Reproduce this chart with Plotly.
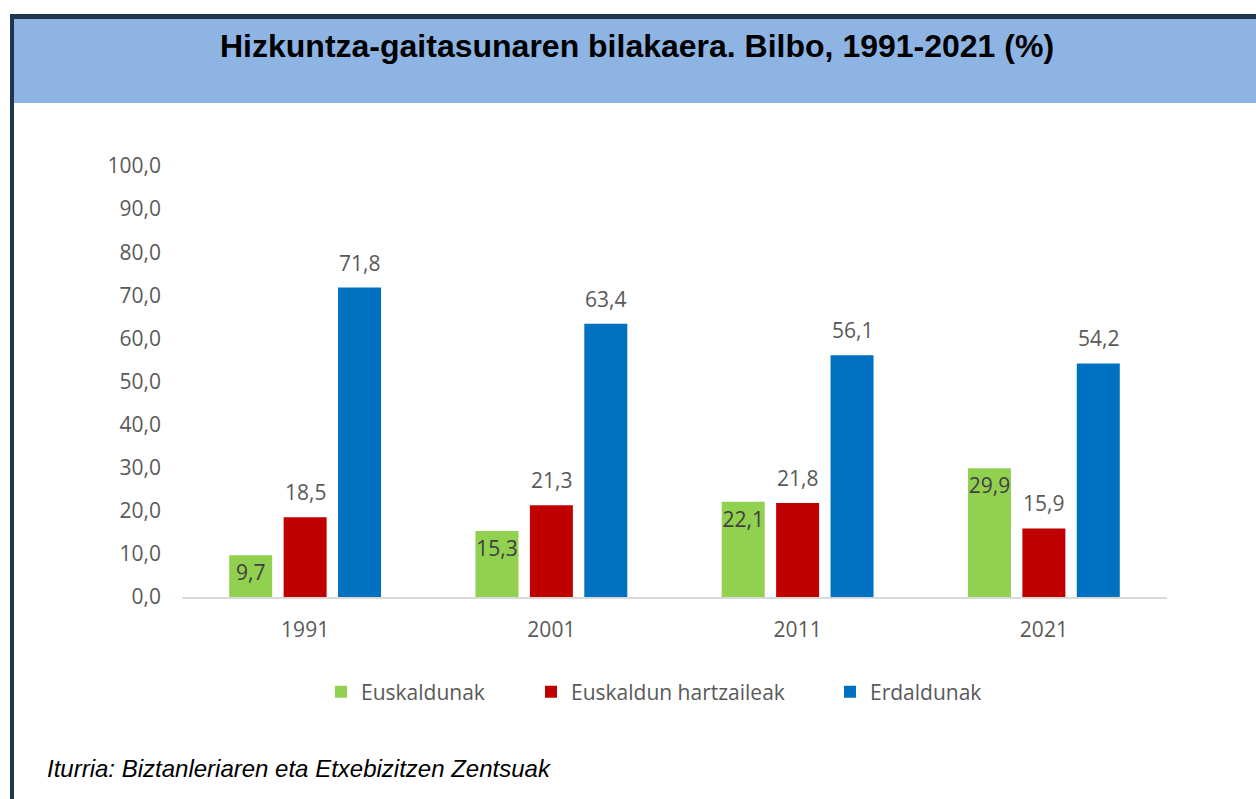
import plotly.graph_objects as go

years = ["1991", "2001", "2011", "2021"]
euskaldunak = [9.7, 15.3, 22.1, 29.9]
hartzaileak = [18.5, 21.3, 21.8, 15.9]
erdaldunak = [71.8, 63.4, 56.1, 54.2]
series_names = ["Euskaldunak", "Euskaldun hartzaileak", "Erdaldunak"]
colors = ["#92D050", "#C00000", "#0070C0"]
y_ticks = [0, 10, 20, 30, 40, 50, 60, 70, 80, 90, 100]
y_tick_labels = ["0,0", "10,0", "20,0", "30,0", "40,0", "50,0", "60,0", "70,0", "80,0", "90,0", "100,0"]

FONT = "Open Sans"
FS = 21
W, H = 1256, 799
L, R, T, B = 182, W - 1167, 166, H - 597
PW, PH = W - L - R, H - T - B
BARGAP, GROUPGAP = 0.337, 0.21


def fmt(v):
    return f"{v:.1f}".replace(".", ",")


def px_x(p):
    return (p - L) / PW


def px_y(p):
    return (H - B - p) / PH


band = PW / len(years)
slot = band * (1 - BARGAP) / 3

fig = go.Figure()
legend_ids = ["legend", "legend2", "legend3"]
legend_text_x = [363, 573, 872]
all_vals = [euskaldunak, hartzaileak, erdaldunak]
for i, (name, vals, col) in enumerate(zip(series_names, all_vals, colors)):
    inside = i == 0
    fig.add_trace(go.Bar(
        x=years, y=vals, name=name,
        marker=dict(color=col, line=dict(width=0)),
        text=[fmt(v) for v in vals] if inside else None,
        textposition="inside" if inside else "none",
        insidetextanchor="end",
        textangle=0,
        constraintext="none",
        textfont=dict(family=FONT, size=FS, color="#404040"),
        hoverinfo="skip",
        legend=legend_ids[i],
    ))
    if not inside:
        for j, v in enumerate(vals):
            fig.add_annotation(
                x=j, y=v, xref="x", yref="y", text=fmt(v), showarrow=False,
                xshift=(i - 1) * slot, yshift=25, yanchor="middle", xanchor="center",
                font=dict(family=FONT, size=FS, color="#595959"),
            )

leg_common = dict(orientation="h", yanchor="middle", xanchor="left",
                  font=dict(family=FONT, size=FS, color="#595959"),
                  bgcolor="rgba(0,0,0,0)", borderwidth=0, itemwidth=30)
layout_legends = {}
for lid, tx in zip(legend_ids, legend_text_x):
    layout_legends[lid] = dict(leg_common, x=px_x(tx - 42), y=px_y(692))

fig.update_layout(
    width=W, height=H,
    margin=dict(l=L, r=R, t=T, b=B, pad=0),
    paper_bgcolor="white", plot_bgcolor="white",
    barmode="group", bargap=BARGAP, bargroupgap=GROUPGAP,
    showlegend=True,
    xaxis=dict(type="category", categoryorder="array", categoryarray=years,
               range=[-0.5, len(years) - 0.5], autorange=False,
               showgrid=False, showline=True, linecolor="#D9D9D9", linewidth=2,
               ticks="", tickfont=dict(family=FONT, size=FS, color="#595959"),
               ticklabelstandoff=13),
    yaxis=dict(range=[0, 100], autorange=False, showgrid=False, showline=False, zeroline=False,
               tickvals=y_ticks, ticktext=y_tick_labels, ticks="",
               tickfont=dict(family=FONT, size=FS, color="#595959"),
               ticklabelstandoff=20),
    font=dict(family=FONT),
    **layout_legends,
)

shapes = [
    dict(type="rect", xref="paper", yref="paper",
         x0=px_x(14), x1=px_x(W), y0=px_y(103), y1=px_y(19),
         fillcolor="#8EB4E3", line=dict(width=0), layer="below"),
    dict(type="rect", xref="paper", yref="paper",
         x0=px_x(10), x1=px_x(W), y0=px_y(19), y1=px_y(14),
         fillcolor="#1F3550", line=dict(width=0), layer="above"),
    dict(type="rect", xref="paper", yref="paper",
         x0=px_x(10), x1=px_x(14), y0=px_y(H), y1=px_y(14),
         fillcolor="#1F3550", line=dict(width=0), layer="above"),
]
fig.update_layout(shapes=shapes)

fig.add_annotation(
    text="<b>Hizkuntza-gaitasunaren bilakaera. Bilbo, 1991-2021 (%)</b>",
    xref="paper", yref="paper", x=px_x(637), y=px_y(46),
    xanchor="center", yanchor="middle", showarrow=False,
    font=dict(family="Liberation Sans", size=32, color="black"),
)
fig.add_annotation(
    text="<i>Iturria: Biztanleriaren eta Etxebizitzen Zentsuak</i>",
    xref="paper", yref="paper", x=px_x(45), y=px_y(768),
    xanchor="left", yanchor="middle", showarrow=False,
    font=dict(family="Liberation Sans", size=24, color="black"),
)

fig.write_html("out.html", config={"displayModeBar": False},
               post_script="document.body.style.margin='0';")
